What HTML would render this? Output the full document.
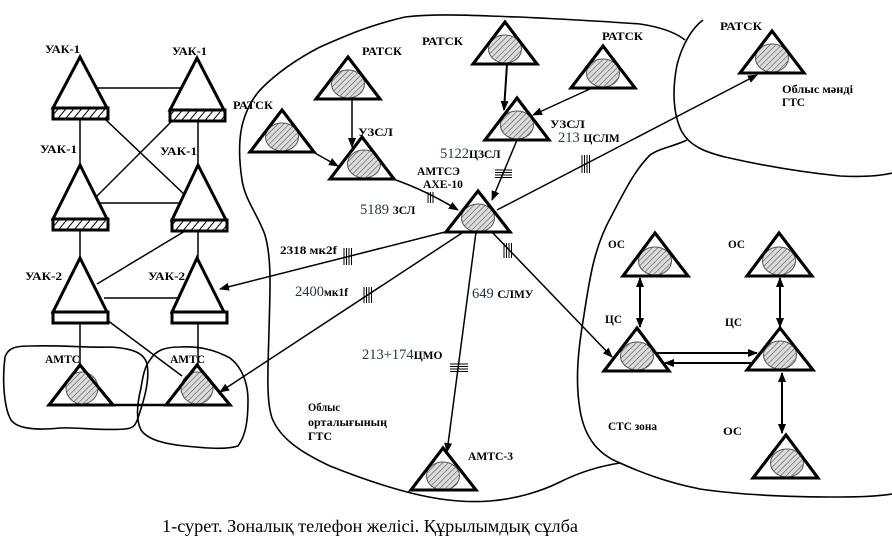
<!DOCTYPE html>
<html><head><meta charset="utf-8"><style>
html,body{margin:0;padding:0;background:#fff;}
svg{display:block;}
.l{font-family:"Liberation Serif","DejaVu Serif",serif;font-weight:bold;font-size:11.5px;fill:#000;}
.n{font-family:"Liberation Serif","DejaVu Serif",serif;font-size:14.5px;fill:#1f3545;}
.c{font-family:"Liberation Serif","DejaVu Serif",serif;font-size:18px;fill:#000;}
</style></head><body>
<svg width="892" height="543" viewBox="0 0 892 543" xmlns="http://www.w3.org/2000/svg">
<defs>
<pattern id="h" width="4" height="4" patternUnits="userSpaceOnUse" patternTransform="rotate(45)">
<rect width="4" height="4" fill="#dcdcdc"/><line x1="0" y1="0" x2="0" y2="4" stroke="#4a4a4a" stroke-width="1.1"/></pattern>
<pattern id="rh" width="6" height="6" patternUnits="userSpaceOnUse" patternTransform="rotate(40)">
<rect width="6" height="6" fill="#fff"/><line x1="0" y1="0" x2="0" y2="6" stroke="#000" stroke-width="2"/></pattern>
<marker id="a" markerWidth="10" markerHeight="8" refX="9" refY="4" orient="auto" markerUnits="userSpaceOnUse">
<path d="M0,0 L10,4 L0,8 z" fill="#000"/></marker>
<marker id="b" markerWidth="10" markerHeight="8" refX="1" refY="4" orient="auto" markerUnits="userSpaceOnUse">
<path d="M10,0 L0,4 L10,8 z" fill="#000"/></marker>
</defs>

<!-- blobs -->
<g fill="none" stroke="#000" stroke-width="1.6">
<path d="M5,357 C8,348 15,346 30,346 C60,345 90,348 110,347 C130,348 144,352 147,364 C150,380 144,400 139,415 C136,424 135,428 125,429 C100,431 80,427 60,428 C40,430 18,430 11,420 C4,408 2,380 5,357 Z"/>
<path d="M150,360 C156,350 165,347 180,347 C200,346 215,350 230,358 C243,368 248,385 248,400 C248,420 246,435 238,446 C225,450 205,448 185,446 C165,444 148,440 141,430 C135,418 138,400 141,388 C143,375 145,366 150,360 Z"/>
<!-- central blob -->
<path d="M687,140 C675,146 660,148 650,155 C635,170 625,190 612,215 C595,245 590,275 584,315 C578,350 575,380 580,410 C585,440 600,455 620,463 C600,466 580,472 560,482 C540,492 515,499 490,501 C465,503 440,500 415,494 C390,488 360,478 330,466 C300,452 280,438 272,418 C266,400 268,370 269,330 C270,290 272,260 265,235 C258,215 245,200 242,180 C239,160 238,140 243,122 C248,105 255,95 262,88 C275,75 295,60 320,47 C345,36 370,25 405,17 C440,13 480,16 520,17 C560,19 600,21 640,24 C660,27 675,32 685,40"/>
<!-- right blob -->
<path d="M703,20 C692,28 682,45 677,65 C672,90 673,115 682,132 C690,146 705,152 725,157 C760,165 800,172 840,176 C860,177 880,176 892,173"/>
<!-- STS zone -->
<path d="M620,463 C640,472 665,482 700,489 C740,495 790,497 840,497 C860,497 880,496 892,494"/>
</g>

<!-- left UAK lines -->
<g stroke="#000" stroke-width="1.5" fill="none">
<line x1="97" y1="88" x2="182" y2="88"/>
<line x1="80" y1="120" x2="80" y2="165"/>
<line x1="198" y1="121" x2="198" y2="165"/>
<line x1="106" y1="120" x2="186" y2="196"/>
<line x1="172" y1="121" x2="96" y2="197"/>
<line x1="98" y1="203" x2="183" y2="203"/>
<line x1="80" y1="230" x2="80" y2="258"/>
<line x1="198" y1="231" x2="198" y2="258"/>
<line x1="185" y1="231" x2="97" y2="284"/>
<line x1="104" y1="298" x2="182" y2="298"/>
<line x1="80" y1="323" x2="80" y2="365"/>
<line x1="198" y1="323" x2="198" y2="365"/>
<line x1="107" y1="320" x2="182" y2="376"/>
<line x1="113" y1="405" x2="167" y2="405" stroke-width="2.5"/>
</g>

<!-- UAK triangles -->
<g stroke="#000" stroke-width="3" fill="#fff">
<polygon points="80,57 53,108 107,108"/>
<rect x="53" y="108" width="55" height="11" fill="url(#rh)"/>
<polygon points="197,58 170,110 224,110"/>
<rect x="170" y="110" width="55" height="11" fill="url(#rh)"/>
<polygon points="80,165 53,219 107,219"/>
<rect x="53" y="219" width="55" height="11" fill="url(#rh)"/>
<polygon points="198,165 172,220 226,220"/>
<rect x="172" y="220" width="55" height="11" fill="url(#rh)"/>
<polygon points="80,258 53,312 107,312"/>
<rect x="53" y="312" width="55" height="11"/>
<polygon points="197,258 172,312 224,312"/>
<rect x="172" y="312" width="55" height="11"/>
</g>

<!-- AMTC nodes left -->
<g>
<polygon points="80,365 49,405 113,405" fill="#fff" stroke="#000" stroke-width="3"/>
<ellipse cx="82" cy="388" rx="16" ry="16" fill="url(#h)" stroke="#555" stroke-width="1"/>
<polygon points="80,365 49,405 113,405" fill="none" stroke="#000" stroke-width="3"/>
<polygon points="197,365 166,405 230,405" fill="#fff" stroke="#000" stroke-width="3"/>
<ellipse cx="197" cy="388" rx="16" ry="16" fill="url(#h)" stroke="#555" stroke-width="1"/>
<polygon points="197,365 166,405 230,405" fill="none" stroke="#000" stroke-width="3"/>
</g>

<!-- connectors center -->
<g stroke="#000" stroke-width="1.5" fill="none">
<line x1="313" y1="152" x2="338" y2="166" marker-end="url(#a)"/>
<line x1="352" y1="99" x2="352" y2="147" marker-end="url(#a)"/>
<path d="M393,179 Q425,190 458,210" marker-end="url(#a)"/>
<line x1="507" y1="64" x2="504" y2="110" stroke-width="2" marker-end="url(#a)"/>
<line x1="592" y1="88" x2="533" y2="115" marker-end="url(#a)"/>
<line x1="517" y1="140" x2="492" y2="200" marker-end="url(#a)"/>
<line x1="497" y1="210" x2="757" y2="75" marker-end="url(#a)"/>
<line x1="445" y1="232" x2="220" y2="289" marker-end="url(#a)"/>
<line x1="462" y1="233" x2="220" y2="392" marker-end="url(#a)"/>
<line x1="476" y1="232" x2="447" y2="452" marker-end="url(#a)"/>
<line x1="490" y1="230" x2="612" y2="357" marker-end="url(#a)"/>
</g>

<!-- hatch marks -->
<g stroke="#000" stroke-width="1">
<line x1="428" y1="192" x2="428" y2="203"/><line x1="430.5" y1="192" x2="430.5" y2="203"/><line x1="433" y1="192" x2="433" y2="203"/>
<line x1="495" y1="170" x2="512" y2="170"/><line x1="495" y1="172.5" x2="512" y2="172.5"/><line x1="495" y1="175" x2="512" y2="175"/><line x1="495" y1="177.5" x2="512" y2="177.5"/>
<line x1="582" y1="155" x2="582" y2="173"/><line x1="584.5" y1="155" x2="584.5" y2="173"/><line x1="587" y1="155" x2="587" y2="173"/><line x1="589.5" y1="155" x2="589.5" y2="173"/>
<line x1="344" y1="248" x2="344" y2="265"/><line x1="346.5" y1="248" x2="346.5" y2="265"/><line x1="349" y1="248" x2="349" y2="265"/><line x1="351.5" y1="248" x2="351.5" y2="265"/>
<line x1="364" y1="287" x2="364" y2="303"/><line x1="366.5" y1="287" x2="366.5" y2="303"/><line x1="369" y1="287" x2="369" y2="303"/><line x1="371.5" y1="287" x2="371.5" y2="303"/>
<line x1="450" y1="364" x2="468" y2="364"/><line x1="450" y1="366.5" x2="468" y2="366.5"/><line x1="450" y1="369" x2="468" y2="369"/><line x1="450" y1="371.5" x2="468" y2="371.5"/>
<line x1="504" y1="243" x2="504" y2="258"/><line x1="506.5" y1="243" x2="506.5" y2="258"/><line x1="509" y1="243" x2="509" y2="258"/><line x1="511.5" y1="243" x2="511.5" y2="258"/>
</g>

<!-- STS connectors -->
<g stroke="#000" stroke-width="2" fill="none">
<line x1="640" y1="278" x2="640" y2="327" marker-start="url(#b)" marker-end="url(#a)"/>
<line x1="780" y1="278" x2="780" y2="327" marker-start="url(#b)" marker-end="url(#a)"/>
<line x1="657" y1="353" x2="757" y2="353" marker-end="url(#a)"/>
<line x1="757" y1="363" x2="665" y2="363" marker-end="url(#a)"/>
<line x1="782" y1="373" x2="782" y2="433" marker-start="url(#b)" marker-end="url(#a)"/>
</g>

<!-- generic nodes -->
<g id="nodes">
<g><polygon points="282,110 250,152 314,152" fill="#fff" stroke="#000" stroke-width="3"/><ellipse cx="282" cy="137" rx="16.5" ry="14" fill="url(#h)" stroke="#555"/><polygon points="282,110 250,152 314,152" fill="none" stroke="#000" stroke-width="3"/></g>
<g><polygon points="348,57 316,99 380,99" fill="#fff" stroke="#000" stroke-width="3"/><ellipse cx="348" cy="84" rx="16.5" ry="14" fill="url(#h)" stroke="#555"/><polygon points="348,57 316,99 380,99" fill="none" stroke="#000" stroke-width="3"/></g>
<g><polygon points="362,137 330,179 394,179" fill="#fff" stroke="#000" stroke-width="3"/><ellipse cx="364" cy="164" rx="16.5" ry="14" fill="url(#h)" stroke="#555"/><polygon points="362,137 330,179 394,179" fill="none" stroke="#000" stroke-width="3"/></g>
<g><polygon points="505,22 473,64 537,64" fill="#fff" stroke="#000" stroke-width="3"/><ellipse cx="505" cy="49" rx="16.5" ry="14" fill="url(#h)" stroke="#555"/><polygon points="505,22 473,64 537,64" fill="none" stroke="#000" stroke-width="3"/></g>
<g><polygon points="603,46 571,88 635,88" fill="#fff" stroke="#000" stroke-width="3"/><ellipse cx="603" cy="73" rx="16.5" ry="14" fill="url(#h)" stroke="#555"/><polygon points="603,46 571,88 635,88" fill="none" stroke="#000" stroke-width="3"/></g>
<g><polygon points="517,98 485,140 549,140" fill="#fff" stroke="#000" stroke-width="3"/><ellipse cx="517" cy="125" rx="16.5" ry="14" fill="url(#h)" stroke="#555"/><polygon points="517,98 485,140 549,140" fill="none" stroke="#000" stroke-width="3"/></g>
<g><polygon points="478,191 446,232 510,232" fill="#fff" stroke="#000" stroke-width="3"/><ellipse cx="478" cy="218" rx="16.5" ry="14" fill="url(#h)" stroke="#555"/><polygon points="478,191 446,232 510,232" fill="none" stroke="#000" stroke-width="3"/></g>
<g><polygon points="772,31 740,73 804,73" fill="#fff" stroke="#000" stroke-width="3"/><ellipse cx="772" cy="58" rx="16.5" ry="14" fill="url(#h)" stroke="#555"/><polygon points="772,31 740,73 804,73" fill="none" stroke="#000" stroke-width="3"/></g>
<g><polygon points="655,233 623,276 688,276" fill="#fff" stroke="#000" stroke-width="3"/><ellipse cx="655" cy="261" rx="16.5" ry="14" fill="url(#h)" stroke="#555"/><polygon points="655,233 623,276 688,276" fill="none" stroke="#000" stroke-width="3"/></g>
<g><polygon points="779,233 747,276 812,276" fill="#fff" stroke="#000" stroke-width="3"/><ellipse cx="779" cy="261" rx="16.5" ry="14" fill="url(#h)" stroke="#555"/><polygon points="779,233 747,276 812,276" fill="none" stroke="#000" stroke-width="3"/></g>
<g><polygon points="637,328 604,371 669,371" fill="#fff" stroke="#000" stroke-width="3"/><ellipse cx="637" cy="356" rx="16.5" ry="14" fill="url(#h)" stroke="#555"/><polygon points="637,328 604,371 669,371" fill="none" stroke="#000" stroke-width="3"/></g>
<g><polygon points="780,328 747,370 813,370" fill="#fff" stroke="#000" stroke-width="3"/><ellipse cx="780" cy="355" rx="16.5" ry="14" fill="url(#h)" stroke="#555"/><polygon points="780,328 747,370 813,370" fill="none" stroke="#000" stroke-width="3"/></g>
<g><polygon points="786,435 753,478 818,478" fill="#fff" stroke="#000" stroke-width="3"/><ellipse cx="787" cy="463" rx="16.5" ry="14" fill="url(#h)" stroke="#555"/><polygon points="786,435 753,478 818,478" fill="none" stroke="#000" stroke-width="3"/></g>
<g><polygon points="443,448 411,490 476,490" fill="#fff" stroke="#000" stroke-width="3"/><ellipse cx="443" cy="476" rx="16.5" ry="14" fill="url(#h)" stroke="#555"/><polygon points="443,448 411,490 476,490" fill="none" stroke="#000" stroke-width="3"/></g>
</g>

<!-- labels -->
<g class="l">
<text x="45" y="53" textLength="35" lengthAdjust="spacingAndGlyphs">УАК-1</text>
<text x="172" y="55" textLength="35" lengthAdjust="spacingAndGlyphs">УАК-1</text>
<text x="40" y="153" textLength="37" lengthAdjust="spacingAndGlyphs">УАК-1</text>
<text x="160" y="155" textLength="37" lengthAdjust="spacingAndGlyphs">УАК-1</text>
<text x="25" y="280" textLength="37" lengthAdjust="spacingAndGlyphs">УАК-2</text>
<text x="148" y="280" textLength="37" lengthAdjust="spacingAndGlyphs">УАК-2</text>
<text x="45" y="363" textLength="35" lengthAdjust="spacingAndGlyphs">АМТС</text>
<text x="170" y="363" textLength="35" lengthAdjust="spacingAndGlyphs">АМТС</text>
<text x="233" y="109" textLength="40" lengthAdjust="spacingAndGlyphs">РАТСК</text>
<text x="362" y="55" textLength="40" lengthAdjust="spacingAndGlyphs">РАТСК</text>
<text x="358" y="136" textLength="35" lengthAdjust="spacingAndGlyphs">УЗСЛ</text>
<text x="422" y="45" textLength="41" lengthAdjust="spacingAndGlyphs">РАТСК</text>
<text x="602" y="40" textLength="41" lengthAdjust="spacingAndGlyphs">РАТСК</text>
<text x="550" y="128" textLength="35" lengthAdjust="spacingAndGlyphs">УЗСЛ</text>
<text x="417" y="175" textLength="43" lengthAdjust="spacingAndGlyphs">АМТСЭ</text>
<text x="423" y="188" textLength="40" lengthAdjust="spacingAndGlyphs">AXE-10</text>
<text x="720" y="30" textLength="42" lengthAdjust="spacingAndGlyphs">РАТСК</text>
<text x="782" y="93" textLength="71" lengthAdjust="spacingAndGlyphs">Облыс мәнді</text>
<text x="782" y="106" textLength="23" lengthAdjust="spacingAndGlyphs">ГТС</text>
<text x="280" y="254" textLength="57" lengthAdjust="spacingAndGlyphs">2318 мк2f</text>
<text x="608" y="248" textLength="17" lengthAdjust="spacingAndGlyphs">ОС</text>
<text x="728" y="248" textLength="17" lengthAdjust="spacingAndGlyphs">ОС</text>
<text x="605" y="323" textLength="17" lengthAdjust="spacingAndGlyphs">ЦС</text>
<text x="725" y="326" textLength="17" lengthAdjust="spacingAndGlyphs">ЦС</text>
<text x="608" y="430" textLength="49" lengthAdjust="spacingAndGlyphs">СТС зона</text>
<text x="723" y="435" textLength="19" lengthAdjust="spacingAndGlyphs">ОС</text>
<text x="468" y="460" textLength="45" lengthAdjust="spacingAndGlyphs">АМТС-3</text>
<text x="308" y="411" textLength="32" lengthAdjust="spacingAndGlyphs">Облыс</text>
<text x="308" y="426" textLength="79" lengthAdjust="spacingAndGlyphs">орталығының</text>
<text x="308" y="440" textLength="24" lengthAdjust="spacingAndGlyphs">ГТС</text>
</g>
<g>
<text x="558" y="142"><tspan class="n">213 </tspan><tspan class="l" font-size="12px">ЦСЛМ</tspan></text>
<text x="440" y="158"><tspan class="n">5122</tspan><tspan class="l" font-size="12px">ЦЗСЛ</tspan></text>
<text x="360" y="214"><tspan class="n">5189 </tspan><tspan class="l" font-size="12px">ЗСЛ</tspan></text>
<text x="295" y="296"><tspan class="n">2400</tspan><tspan class="l" font-size="12px">мк1f</tspan></text>
<text x="472" y="298"><tspan class="n">649 </tspan><tspan class="l" font-size="12px">СЛМУ</tspan></text>
<text x="362" y="359"><tspan class="n">213+174</tspan><tspan class="l" font-size="12px">ЦМО</tspan></text>
</g>
<text class="c" x="162" y="532" textLength="416" lengthAdjust="spacingAndGlyphs">1-сурет. Зоналық телефон желісі. Құрылымдық сұлба</text>
</svg>
</body></html>
